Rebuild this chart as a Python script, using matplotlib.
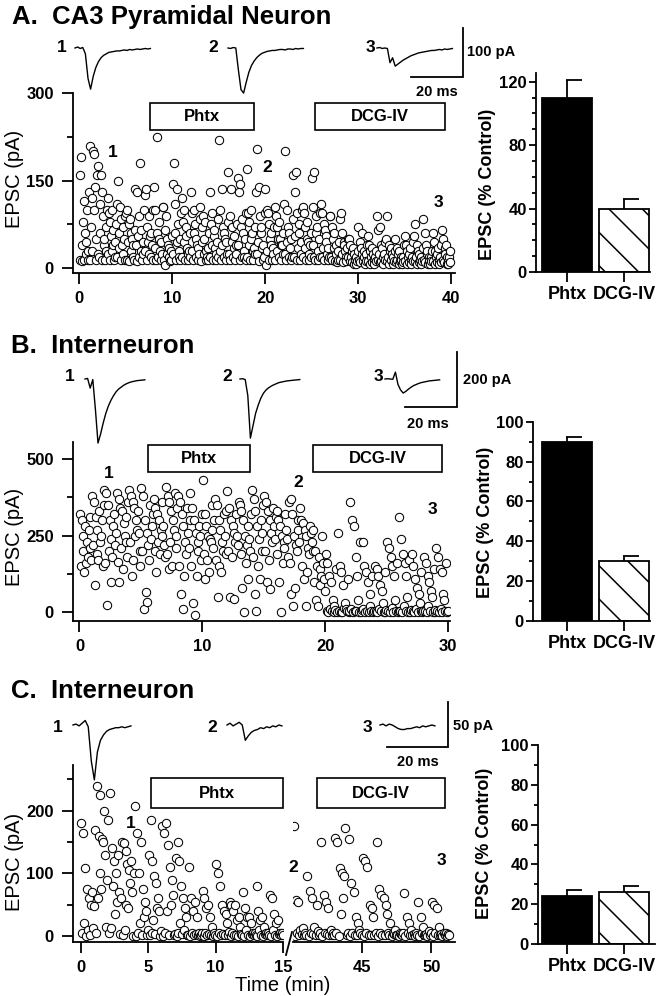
import numpy as np
import matplotlib
matplotlib.use("Agg")
import matplotlib.pyplot as plt
from matplotlib import font_manager
from matplotlib.patches import Rectangle
from matplotlib.lines import Line2D
from matplotlib.ticker import MultipleLocator

plt.rcParams["font.family"] = ["Liberation Sans", "DejaVu Sans"]
plt.rcParams["font.weight"] = "bold"
plt.rcParams["hatch.linewidth"] = 1.1

W, H = 662, 996

# ---------------- data ----------------
# EPSC amplitudes (pA), one row per minute of recording
A_epsc = [
    [160, 15, 190, 40, 12, 80, 115, 15, 60, 45, 25, 100, 15, 30],
    [130, 15, 210, 70, 120, 30, 200, 100, 195, 140, 15, 50, 160, 25],
    [175, 20, 110, 60, 160, 15, 130, 90, 40, 50, 15, 70, 30, 100],
    [120, 25, 95, 15, 80, 55, 100, 30, 65, 40, 15, 45, 20, 75],
    [110, 20, 150, 60, 35, 105, 15, 85, 40, 70, 25, 50, 15, 90],
    [95, 15, 100, 45, 75, 12, 85, 30, 60, 50, 20, 40, 15, 65],
    [135, 40, 12, 130, 55, 90, 20, 180, 30, 65, 15, 45, 25, 100],
    [125, 30, 135, 15, 70, 45, 90, 25, 55, 60, 20, 40, 15, 100],
    [140, 35, 100, 15, 225, 60, 20, 80, 50, 30, 15, 45, 25, 105],
    [105, 15, 65, 5, 90, 25, 50, 40, 20, 35, 12, 30, 15, 55],
    [145, 25, 180, 60, 110, 15, 135, 45, 75, 30, 20, 50, 15, 95],
    [120, 20, 80, 45, 100, 15, 55, 70, 35, 25, 15, 30, 20, 60],
    [130, 30, 95, 15, 100, 60, 75, 20, 50, 40, 15, 35, 25, 85],
    [105, 12, 70, 45, 90, 25, 50, 80, 30, 15, 20, 35, 15, 60],
    [130, 20, 75, 40, 95, 15, 55, 65, 35, 25, 15, 45, 20, 85],
    [220, 30, 100, 15, 135, 40, 70, 20, 60, 50, 15, 45, 25, 80],
    [165, 25, 90, 15, 135, 45, 70, 20, 55, 35, 15, 40, 25, 75],
    [155, 40, 130, 15, 145, 70, 85, 20, 60, 30, 20, 50, 15, 95],
    [170, 20, 95, 40, 80, 15, 100, 50, 60, 30, 15, 35, 25, 70],
    [130, 25, 205, 45, 140, 12, 90, 60, 70, 35, 15, 40, 20, 95],
    [135, 5, 100, 30, 95, 15, 75, 50, 60, 40, 15, 35, 25, 70],
    [105, 15, 90, 30, 70, 50, 80, 20, 50, 40, 15, 40, 25, 60],
    [110, 25, 200, 15, 100, 45, 70, 20, 60, 35, 15, 50, 20, 85],
    [160, 20, 130, 55, 165, 15, 95, 35, 75, 60, 15, 45, 25, 100],
    [105, 20, 95, 35, 70, 15, 80, 50, 45, 25, 15, 40, 20, 60],
    [155, 40, 105, 20, 165, 15, 90, 60, 70, 30, 15, 50, 20, 95],
    [110, 20, 95, 35, 75, 15, 65, 55, 45, 25, 15, 35, 20, 90],
    [90, 20, 70, 15, 50, 35, 60, 12, 40, 25, 10, 30, 15, 45],
    [85, 15, 95, 25, 60, 10, 45, 40, 30, 20, 12, 35, 20, 50],
    [50, 12, 40, 20, 30, 10, 35, 8, 25, 15, 8, 20, 12, 30],
    [70, 15, 45, 10, 35, 25, 60, 12, 30, 20, 8, 25, 12, 40],
    [55, 12, 40, 8, 30, 20, 35, 10, 25, 15, 8, 20, 12, 30],
    [90, 15, 65, 25, 70, 10, 40, 12, 35, 20, 8, 25, 15, 45],
    [50, 12, 90, 20, 40, 8, 30, 15, 35, 25, 8, 20, 12, 30],
    [50, 10, 35, 15, 25, 8, 30, 12, 20, 15, 8, 20, 10, 40],
    [55, 12, 40, 8, 30, 20, 25, 10, 35, 15, 8, 20, 12, 45],
    [55, 12, 75, 20, 40, 8, 30, 10, 25, 15, 8, 20, 12, 35],
    [85, 15, 60, 10, 40, 25, 30, 8, 20, 12, 8, 20, 12, 30],
    [60, 12, 45, 8, 30, 20, 25, 10, 35, 15, 8, 20, 10, 40],
    [65, 15, 50, 10, 35, 25, 40, 8, 20, 12, 8, 20, 10, 30],
]
B_epsc = [
    [320, 150, 300, 200, 250, 130, 280, 160, 230, 180, 270, 210, 310, 170],
    [380, 220, 360, 90, 310, 190, 270, 170, 330, 230, 250, 300, 150, 350],
    [400, 160, 390, 25, 350, 200, 300, 100, 240, 180, 280, 320, 220, 260],
    [390, 165, 370, 100, 340, 210, 330, 140, 290, 250, 310, 230, 180, 360],
    [400, 230, 380, 120, 360, 170, 340, 250, 300, 270, 330, 260, 200, 150],
    [405, 200, 380, 10, 300, 65, 260, 35, 220, 170, 350, 240, 280, 320],
    [370, 200, 340, 130, 320, 230, 300, 190, 270, 250, 360, 280, 220, 180],
    [410, 190, 380, 140, 360, 230, 330, 150, 300, 270, 390, 250, 210, 340],
    [380, 150, 360, 60, 320, 10, 280, 120, 230, 190, 340, 260, 210, 300],
    [390, 150, 340, 30, 300, -10, 260, 120, 230, 200, 280, 250, 170, 320],
    [430, 190, 320, 110, 280, 170, 250, 130, 240, 230, 350, 270, 210, 300],
    [370, 170, 350, 50, 300, 150, 270, 130, 230, 200, 320, 250, 190, 330],
    [395, 200, 340, 50, 300, 180, 280, 45, 260, 230, 320, 250, 220, 360],
    [350, 190, 330, 80, 300, 2, 250, 160, 220, 110, 280, 240, 200, 320],
    [400, 180, 370, 60, 330, 5, 280, 150, 240, 110, 300, 260, 200, 350],
    [380, 200, 360, 100, 330, 170, 300, 75, 260, 230, 340, 280, 240, 310],
    [330, 190, 300, 100, 280, 0, 250, 160, 230, 210, 320, 270, 240, 180],
    [360, 160, 370, 60, 320, 20, 250, 80, 220, 200, 300, 270, 230, 340],
    [300, 150, 290, 110, 270, 20, 250, 130, 210, 190, 280, 260, 230, 200],
    [270, 100, 200, 40, 150, 20, 180, 90, 140, 120, 250, 160, 110, 70],
    [190, 5, 160, 0, 120, 10, 100, 3, 40, 20, 2, 8, 140, 1],
    [260, 5, 150, 0, 130, 2, 90, 15, 30, 10, 3, 110, 1, 6],
    [360, 10, 300, 0, 280, 5, 180, 3, 120, 40, 2, 230, 1, 8],
    [230, 10, 150, 0, 130, 5, 100, 2, 60, 20, 3, 120, 1, 5],
    [150, 5, 140, 0, 120, 10, 90, 3, 70, 30, 2, 130, 1, 8],
    [230, 5, 210, 0, 180, 15, 150, 2, 120, 40, 3, 160, 1, 6],
    [310, 5, 240, 0, 190, 20, 160, 3, 120, 50, 2, 170, 1, 8],
    [190, 5, 150, 0, 110, 10, 80, 2, 60, 30, 3, 130, 1, 6],
    [180, 5, 160, 0, 120, 20, 100, 3, 70, 50, 2, 140, 1, 8],
    [210, 5, 180, 0, 140, 10, 130, 2, 60, 40, 3, 160, 1, 6],
]
C_epsc_early = [  # minutes 0-15
    [180, 5, 165, 20, 108, 0, 75, 10, 60, 2, 50, 70, 12, 48],
    [170, 5, 240, 60, 160, 100, 225, 75, 155, 150, 200, 130, 15, 90],
    [185, 5, 228, 12, 140, 80, 120, 35, 100, 55, 130, 70, 3, 60],
    [150, 2, 148, 10, 135, 50, 115, 45, 105, 85, 120, 70, 0, 100],
    [208, 0, 165, 5, 100, 20, 150, 2, 75, 30, 55, 40, 1, 10],
    [130, 2, 185, 5, 120, 25, 95, 3, 85, 45, 60, 40, 0, 8],
    [175, 0, 165, 5, 180, 40, 145, 2, 110, 50, 90, 65, 1, 3],
    [125, 0, 150, 5, 120, 20, 80, 3, 60, 10, 45, 30, 1, 2],
    [110, 0, 60, 5, 40, 1, 55, 3, 30, 2, 5, 0, 1, 4],
    [72, 0, 60, 5, 45, 1, 50, 3, 30, 2, 15, 0, 4, 1],
    [115, 0, 100, 5, 80, 1, 50, 3, 40, 2, 35, 20, 1, 6],
    [55, 0, 50, 5, 40, 1, 50, 2, 25, 0, 30, 15, 3, 1],
    [70, 0, 45, 10, 30, 1, 30, 0, 20, 3, 5, 2, 4, 1],
    [80, 0, 40, 10, 25, 1, 30, 0, 15, 3, 5, 2, 4, 1],
    [65, 0, 60, 10, 35, 1, 20, 0, 25, 3, 5, 2, 4, 1],
]
C_epsc_late = [  # minutes 40-51
    [175, 0, 58, 5, 55, 2, 10, 3, 12, 1, 4, 1],
    [95, 0, 72, 5, 60, 3, 15, 2, 50, 8, 1, 4],
    [150, 0, 65, 5, 55, 3, 45, 2, 10, 1, 4, 2],
    [157, 5, 150, 0, 108, 35, 100, 60, 95, 172, 1, 4],
    [155, 0, 85, 5, 70, 2, 30, 1, 20, 10, 4, 2],
    [125, 0, 120, 5, 110, 2, 50, 1, 45, 30, 1, 4],
    [150, 0, 75, 5, 65, 2, 60, 1, 50, 35, 4, 2],
    [20, 0, 5, 3, 10, 2, 1, 0, 5, 3, 1, 4],
    [68, 0, 30, 5, 20, 2, 10, 1, 3, 0, 4, 2],
    [55, 0, 30, 5, 15, 2, 1, 3, 0, 8, 1, 4],
    [55, 0, 50, 5, 45, 2, 15, 1, 3, 0, 4, 2],
    [5, 0, 3, 1],
]
sweeps_per_min = {"A": 14, "B": 14, "C_early": 14, "C_late": 12}
C_late_start = 40

# drug application windows (min)
A_drugs = [("Phtx", 7.6, 18.8), ("DCG-IV", 25.4, 39.4)]
B_drugs = [("Phtx", 5.6, 13.9), ("DCG-IV", 19.0, 29.5)]
C_drugs = [("Phtx", 5.2, 15.0), ("DCG-IV", 41.7, 51.0)]

# summary bars (% control)
bar_labels = ["Phtx", "DCG-IV"]
A_bar_mean, A_bar_sem = [110, 40], [11, 6]
B_bar_mean, B_bar_sem = [90, 30], [2.5, 2.8]
C_bar_mean, C_bar_sem = [24, 26], [3.2, 3.0]

# example sweeps (pA, 1 ms per point)
A_traces = [
    [0, 2, -1, 1, -12, -62, -84, -58, -40, -28, -20, -15, -12, -9, -8, -7, -6, -6, -5, -4, -5, -3, -4, -3, -2, -3, -2, -1, -2, -1],
    [0, -1, 1, 0, -45, -85, -92, -70, -50, -36, -27, -20, -15, -11, -9, -7, -6, -5, -5, -4, -3, -3, -4, -2, -2, -3, -1, -2, -1, -1],
    [0, 1, -1, 0, -1, -30, -20, -37, -33, -29, -25, -22, -19, -16, -14, -12, -10, -9, -8, -7, -6, -5, -5, -4, -3, -4, -2, -3, -2, -1],
]
B_traces = [
    [0, 2, -33, -2, -110, -233, -200, -160, -125, -98, -77, -60, -46, -36, -29, -22, -17, -13, -10, -8, -6, -5, -4, -3],
    [0, 1, -2, -60, -215, -170, -125, -95, -70, -52, -40, -32, -26, -21, -17, -13, -11, -9, -7, -6, -5, -4, -3, -2],
    [0, 1, 0, -1, 25, -20, -40, -51, -45, -37, -30, -24, -20, -16, -13, -11, -9, -7, -6, -5, -4, -3],
]
C_traces = [
    [0, 1, -1, 2, 5, -2, -40, -61, -30, -17, -11, -7, -5, -4, -3, -3, -2, -3, -2, -1],
    [0, 2, -1, 1, 3, 0, -17, -12, -8, -6, -5, -3, -4, -2, -3, -1, -2, 0, -1],
    [0, 1, -1, 1, 0, -2, -4, -5, -5, -4, -4, -3, -2, -3, -1, -2, -1, 0, -1],
]
scale_ms = 20
scale_pA = {"A": 100, "B": 200, "C": 50}


# ---------------- helpers ----------------
def rect(left, top, right, bottom):
    return [left / W, 1 - bottom / H, (right - left) / W, (bottom - top) / H]


def fig_text(x, y, s, **kw):
    fig.text(x / W, 1 - y / H, s, **kw)


def sweep_times(rows, rate, start=0):
    t, y = [], []
    for m, row in enumerate(rows):
        for k, v in enumerate(row):
            t.append(start + m + (k + 0.5) / rate)
            y.append(v)
    return np.array(t), np.array(y)


def scatter_axes(box, xlim, ylim):
    ax = fig.add_axes(rect(*box))
    ax.set_xlim(xlim)
    ax.set_ylim(ylim)
    ax.spines[["top", "right"]].set_visible(False)
    ax.spines[["left", "bottom"]].set_linewidth(1.3)
    ax.tick_params(which="major", length=8, width=1.3, labelsize=12)
    ax.tick_params(axis="y", which="major", pad=6)
    ax.tick_params(axis="x", which="major", pad=5)
    ax.tick_params(which="minor", length=4.5, width=1.3)
    return ax


def plot_sweeps(ax, t, y):
    ax.plot(t, y, "o", ms=6.0, mfc="white", mec="black", mew=0.75, zorder=2)


def drug_box(ax, name, t0, t1, y0, y1):
    ax.add_patch(Rectangle((t0, y0), t1 - t0, y1 - y0, fc="white", ec="black",
                           lw=1.2, clip_on=False, zorder=4))
    ax.text((t0 + t1) / 2, (y0 + y1) / 2, name, ha="center", va="center",
            fontsize=12, zorder=5, clip_on=False)


def trace_panel(top, bottom, base, px_ms, px_pa, traces, onsets, corner, pA):
    ax = fig.add_axes(rect(0, top, 470, bottom))
    ax.set_xlim(0, 470 / px_ms)
    ax.set_ylim(-(bottom - base) / px_pa, (base - top) / px_pa)
    ax.axis("off")
    for tr, x0 in zip(traces, onsets):
        t = x0 / px_ms + np.arange(len(tr))
        ax.plot(t, tr, color="black", lw=1.0)
    xe = corner[0] / px_ms
    ye = (base - corner[1]) / px_pa
    ax.plot([xe - scale_ms, xe, xe], [ye, ye, ye + pA], color="black", lw=1.3,
            solid_joinstyle="miter", clip_on=False)
    return ax


names = {f.name for f in font_manager.fontManager.ttflist}
if "Liberation Sans Narrow" in names:
    bar_font = ["Liberation Sans Narrow", "Liberation Sans"]
    bar_tick_fs, bar_label_fs, bar_name_fs = 13, 14.5, 15
else:
    bar_font = ["Liberation Sans", "DejaVu Sans"]
    bar_tick_fs, bar_label_fs, bar_name_fs = 12, 13, 13


def bar_panel(box, means, sems, top, major):
    ax = fig.add_axes(rect(*box))
    x = np.arange(len(means))
    bars = ax.bar(x, means, width=0.88, color=["black", "white"],
                  edgecolor="black", linewidth=1.3, zorder=2)
    bars[1].set_hatch("\\")
    tops = np.array(means) + np.array(sems)
    ax.vlines(x, means, tops, color="black", lw=1.3, zorder=3)
    ax.hlines(tops, x - 0.02, x + 0.27, color="black", lw=1.3, zorder=3)
    ax.set_xlim((box[0] - 567) / 57, (box[2] - 567) / 57)
    ax.set_ylim(0, top)
    yt = np.arange(0, top + 0.01, major)
    ax.set_yticks(yt, labels=[f"{v:g}" for v in yt], fontfamily=bar_font,
                  fontsize=bar_tick_fs, fontweight="bold")
    ax.yaxis.set_minor_locator(MultipleLocator(10))
    ax.set_xticks(x, labels=bar_labels, fontfamily=bar_font,
                  fontsize=bar_name_fs, fontweight="bold")
    ax.spines[["top", "right"]].set_visible(False)
    ax.spines[["left", "bottom"]].set_linewidth(1.3)
    ax.tick_params(axis="y", which="major", length=5, width=1.3, pad=1.5)
    ax.tick_params(axis="y", which="minor", length=3, width=1.3)
    ax.tick_params(axis="x", length=7, width=1.3, pad=3)
    return ax


fig = plt.figure(figsize=(W / 100, H / 100), dpi=100)

# ---------------- A ----------------
fig_text(12, 24, "A.  CA3 Pyramidal Neuron", fontsize=18.5, va="baseline")
ax = scatter_axes((73.3, 93, 455, 272.7), (-0.65, 40.45), (-7.5, 300))
t, y = sweep_times(A_epsc, sweeps_per_min["A"])
plot_sweeps(ax, t, y)
ax.set_yticks([0, 150, 300])
ax.yaxis.set_minor_locator(MultipleLocator(75))
ax.set_xticks(range(0, 41, 10))
for name, t0, t1 in A_drugs:
    drug_box(ax, name, t0, t1, 237, 283)
for s, xx, yy in [("1", 3.6, 199), ("2", 20.2, 172), ("3", 38.7, 113)]:
    ax.text(xx, yy, s, ha="center", va="center", fontsize=12.5)
fig_text(15, 179, "EPSC (pA)", rotation=90, ha="center", va="center",
         fontsize=14.5, fontweight="normal")
trace_panel(20, 100, 48, 2.6, 0.49, A_traces, [75, 228, 377], (463, 77), scale_pA["A"])
for s, xx in [("1", 62), ("2", 213), ("3", 370)]:
    fig_text(xx, 47, s, ha="center", va="center", fontsize=12.5)
fig_text(467, 52, "100 pA", va="center", fontsize=10.5)
fig_text(437, 92, "20 ms", ha="center", va="center", fontsize=10.5)

bar_panel((536, 73.3, 650, 272), A_bar_mean, A_bar_sem, 125.3, 40)
fig_text(487, 184, "EPSC (% Control)", rotation=90, ha="center", va="center",
         fontsize=bar_label_fs, fontfamily=bar_font)

# ---------------- B ----------------
fig_text(11, 353, "B.  Interneuron", fontsize=18.5, va="baseline")
ax = scatter_axes((73.3, 442, 450, 620.7), (-0.5, 30.15), (-27, 555))
t, y = sweep_times(B_epsc, sweeps_per_min["B"])
plot_sweeps(ax, t, y)
ax.set_yticks([0, 250, 500])
ax.yaxis.set_minor_locator(MultipleLocator(125))
ax.set_xticks(range(0, 31, 10))
for name, t0, t1 in B_drugs:
    drug_box(ax, name, t0, t1, 458, 546)
for s, xx, yy in [("1", 2.4, 454), ("2", 17.8, 422), ("3", 28.7, 334)]:
    ax.text(xx, yy, s, ha="center", va="center", fontsize=12.5)
fig_text(15, 537, "EPSC (pA)", rotation=90, ha="center", va="center",
         fontsize=14.5, fontweight="normal")
trace_panel(340, 450, 379, 2.6, 0.275, B_traces, [85, 240, 385], (457, 407), scale_pA["B"])
for s, xx in [("1", 70), ("2", 227), ("3", 378)]:
    fig_text(xx, 376, s, ha="center", va="center", fontsize=12.5)
fig_text(463, 380, "200 pA", va="center", fontsize=10.5)
fig_text(428, 424, "20 ms", ha="center", va="center", fontsize=10.5)

bar_panel((533, 422, 650, 620.7), B_bar_mean, B_bar_sem, 100, 20)
fig_text(486, 522, "EPSC (% Control)", rotation=90, ha="center", va="center",
         fontsize=bar_label_fs, fontfamily=bar_font)

# ---------------- C (broken time axis) ----------------
fig_text(11, 698, "C.  Interneuron", fontsize=18.5, va="baseline")
axl = scatter_axes((73.3, 765, 283, 942), (-0.55, 15.0), (-9.6, 273))
t, y = sweep_times(C_epsc_early, sweeps_per_min["C_early"])
plot_sweeps(axl, t, y)
axl.set_yticks([0, 100, 200])
axl.yaxis.set_minor_locator(MultipleLocator(50))
axl.set_xticks([0, 5, 10, 15])

axr = scatter_axes((293, 765, 455, 942), (40.0, 51.7), (-9.6, 273))
t, y = sweep_times(C_epsc_late, sweeps_per_min["C_late"], C_late_start)
plot_sweeps(axr, t, y)
axr.spines["left"].set_visible(False)
axr.tick_params(axis="y", which="both", left=False, labelleft=False)
axr.set_xticks([45, 50])

drug_box(axl, *C_drugs[0], 204, 252)
drug_box(axr, *C_drugs[1], 204, 252)
axl.text(3.7, 180, "1", ha="center", va="center", fontsize=12.5)
axr.text(40.0, 109, "2", ha="center", va="center", fontsize=12.5, clip_on=False)
axr.text(50.75, 121, "3", ha="center", va="center", fontsize=12.5)
fig.add_artist(Line2D([286 / W, 292 / W], [1 - 955 / H, 1 - 932 / H], color="black", lw=1.3))
fig_text(15, 862, "EPSC (pA)", rotation=90, ha="center", va="center",
         fontsize=14.5, fontweight="normal")
fig_text(283, 985, "Time (min)", ha="center", va="center", fontsize=14.5,
         fontweight="normal")
trace_panel(695, 790, 725, 3.05, 0.9, C_traces, [73, 227, 380], (448, 747), scale_pA["C"])
for s, xx in [("1", 58), ("2", 212), ("3", 367)]:
    fig_text(xx, 727, s, ha="center", va="center", fontsize=12.5)
fig_text(453, 726, "50 pA", va="center", fontsize=10.5)
fig_text(418, 762, "20 ms", ha="center", va="center", fontsize=10.5)

bar_panel((538, 745, 655, 944), C_bar_mean, C_bar_sem, 100, 20)
fig_text(485, 843, "EPSC (% Control)", rotation=90, ha="center", va="center",
         fontsize=bar_label_fs, fontfamily=bar_font)

fig.savefig("out.png", dpi=100)
